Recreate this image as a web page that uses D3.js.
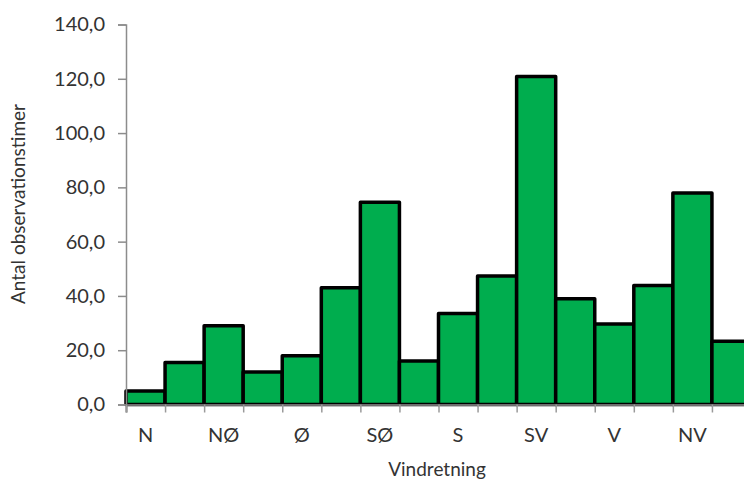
<!DOCTYPE html>
<html>
<head>
<meta charset="utf-8">
<script src="https://cdn.jsdelivr.net/npm/d3@7"></script>
<style>
  html, body { margin: 0; padding: 0; background: #ffffff; overflow: hidden; }
  svg { display: block; }
  text { font-family: Lato, "Open Sans", sans-serif; fill: #333333; }
</style>
</head>
<body>
<svg id="chart" width="744" height="481"></svg>
<script>
// Hours observed per wind direction (16-point compass)
const directions = ["N", "NNØ", "NØ", "ØNØ", "Ø", "ØSØ", "SØ", "SSØ",
                    "S", "SSV", "SV", "VSV", "V", "VNV", "NV", "NNV"];
const hours = [5.0, 15.5, 29.0, 12.0, 18.0, 43.0, 74.5, 16.0,
               33.5, 47.3, 120.8, 39.0, 29.7, 43.8, 77.9, 23.3];
const yTicks = [0, 20, 40, 60, 80, 100, 120, 140];
const yTitle = "Antal observationstimer";
const xTitle = "Vindretning";

const svg = d3.select("#chart");
const plotLeft = 126, plotRight = 751, plotTop = 24.5, plotBottom = 404.5;

const x = d3.scaleBand().domain(directions).range([plotLeft, plotRight]).paddingInner(0).paddingOuter(0);
const xEdge = d3.scaleLinear().domain([0, directions.length]).range([plotLeft, plotRight]);
const y = d3.scaleLinear().domain([0, 140]).range([plotBottom, plotTop]);

// bars
svg.append("g")
  .selectAll("rect")
  .data(hours)
  .join("rect")
  .attr("x", (d, i) => x(directions[i]))
  .attr("y", d => y(d))
  .attr("width", x.bandwidth())
  .attr("height", d => y(0) - y(d))
  .attr("fill", "#00AD4E")
  .attr("stroke", "#000000")
  .attr("stroke-width", 3.5)
  .attr("stroke-linejoin", "round");

// y axis
const yAxis = svg.append("g")
  .attr("transform", `translate(${plotLeft},0)`)
  .call(d3.axisLeft(y).tickValues(yTicks).tickSize(8).tickPadding(13)
        .tickFormat(d => d.toFixed(1).replace(".", ",")));
yAxis.select(".domain").attr("stroke", "#8c8c8c").attr("stroke-width", 1.5);
yAxis.selectAll(".tick line").attr("stroke", "#8c8c8c").attr("stroke-width", 1.5);
yAxis.selectAll(".tick text").style("font-size", "20px").attr("fill", "#333333");

// x axis: ticks on category boundaries
const xTickAxis = svg.append("g")
  .attr("transform", `translate(0,${plotBottom})`)
  .call(d3.axisBottom(xEdge).tickValues(d3.range(directions.length + 1)).tickSize(8).tickFormat(""));
xTickAxis.select(".domain").attr("stroke", "#6e6e6e").attr("stroke-width", 2);
xTickAxis.selectAll(".tick line").attr("stroke", "#9a9a9a").attr("stroke-width", 1.5);

// x axis labels: every second direction
const xLabelAxis = svg.append("g")
  .attr("transform", `translate(0,${plotBottom})`)
  .call(d3.axisBottom(x).tickSize(0).tickPadding(23)
        .tickFormat((d, i) => i % 2 === 0 ? d : ""));
xLabelAxis.select(".domain").remove();
xLabelAxis.selectAll(".tick text").style("font-size", "20px").attr("fill", "#333333");

// axis titles
svg.append("text")
  .attr("transform", `translate(25,204) rotate(-90)`)
  .attr("text-anchor", "middle")
  .style("font-size", "19px")
  .attr("fill", "#333333")
  .text(yTitle);

svg.append("text")
  .attr("x", 437)
  .attr("y", 476)
  .attr("text-anchor", "middle")
  .style("font-size", "19px")
  .attr("fill", "#333333")
  .text(xTitle);
</script>
</body>
</html>
